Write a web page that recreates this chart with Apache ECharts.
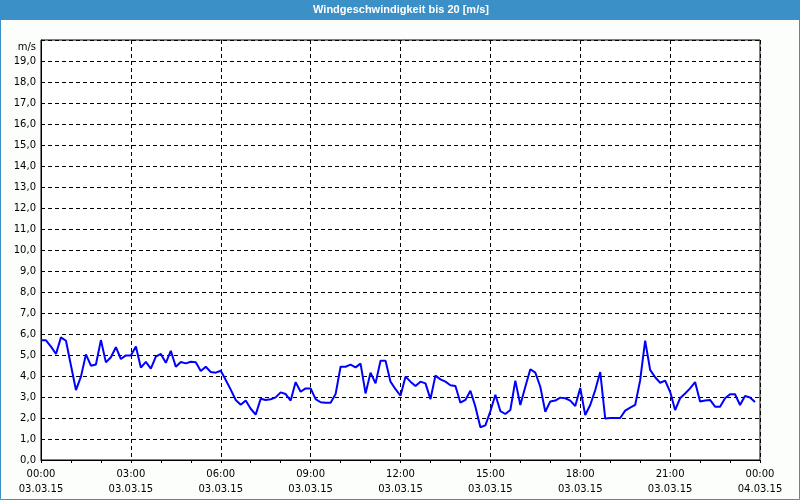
<!DOCTYPE html>
<html><head><meta charset="utf-8">
<script src="https://cdn.jsdelivr.net/npm/echarts@6.0.0/dist/echarts.min.js"></script>
<style>html,body{margin:0;padding:0;background:#fcfefc}#c{width:800px;height:500px}</style>
</head><body><div id="c"></div>
<script>
const chartTitle = 'Windgeschwindigkeit bis 20 [m/s]';
const unitLabel = 'm/s';
const startMinute = 0;
const stepMinutes = 10;
const windSpeed = [
  5.7, 5.7, 5.4, 5.05, 5.84, 5.68, 4.5, 3.33, 3.97, 5.03, 4.49, 4.55,
  5.71, 4.65, 4.89, 5.37, 4.81, 4.98, 4.98, 5.4, 4.4, 4.67, 4.35, 4.92,
  5.05, 4.63, 5.2, 4.44, 4.67, 4.6, 4.68, 4.65, 4.24, 4.44, 4.19, 4.16,
  4.25, 3.81, 3.35, 2.86, 2.63, 2.83, 2.44, 2.16, 2.92, 2.86, 2.89, 2.98,
  3.22, 3.14, 2.83, 3.71, 3.25, 3.41, 3.41, 2.9, 2.75, 2.73, 2.73, 3.14,
  4.44, 4.44, 4.54, 4.41, 4.59, 3.17, 4.16, 3.65, 4.73, 4.73, 3.73, 3.37,
  3.06, 3.97, 3.73, 3.52, 3.73, 3.65, 2.9, 4.02, 3.84, 3.73, 3.56, 3.52,
  2.73, 2.86, 3.3, 2.54, 1.56, 1.65, 2.32, 3.11, 2.33, 2.19, 2.38, 3.78,
  2.62, 3.49, 4.32, 4.16, 3.49, 2.3, 2.79, 2.83, 2.97, 2.94, 2.83, 2.57,
  3.43, 2.14, 2.62, 3.33, 4.19, 1.98, 2.0, 2.0, 2.0, 2.35, 2.49, 2.62,
  3.8, 5.68, 4.29, 3.94, 3.68, 3.78, 3.25, 2.38, 2.94, 3.17, 3.41, 3.71,
  2.79, 2.83, 2.86, 2.54, 2.54, 2.94, 3.13, 3.13, 2.62, 3.05, 2.98, 2.76
];
const xTickLabels = [
  '00:00\n03.03.15', '03:00\n03.03.15', '06:00\n03.03.15', '09:00\n03.03.15',
  '12:00\n03.03.15', '15:00\n03.03.15', '18:00\n03.03.15', '21:00\n03.03.15',
  '00:00\n04.03.15'
];

const seriesData = windSpeed.map((v, i) => [startMinute + i * stepMinutes, v]);
const font = 'DejaVu Sans';
const chart = echarts.init(document.getElementById('c'), null, {renderer: 'canvas'});
chart.setOption({
  backgroundColor: '#fcfefc',
  animation: false,
  textStyle: {fontFamily: font},
  grid: {left: 41, top: 40, right: 40, bottom: 40, show: true, backgroundColor: '#ffffff', borderColor: '#000', borderWidth: 1},
  xAxis: {
    type: 'value', min: 0, max: 1440, interval: 180,
    axisLine: {show: true, lineStyle: {color: '#000', width: 1}},
    axisTick: {show: true, length: 3, lineStyle: {color: '#000'}},
    minorTick: {show: true, splitNumber: 3, length: 3, lineStyle: {color: '#000'}},
    axisLabel: {margin: 7, fontSize: 10, color: '#000', fontFamily: font, lineHeight: 15,
      formatter: v => xTickLabels[Math.round(v / 180)] || ''},
    splitLine: {show: true, lineStyle: {color: '#000', type: [4, 3], width: 1}}
  },
  yAxis: {
    type: 'value', min: 0, max: 20, interval: 1,
    axisLine: {show: true, lineStyle: {color: '#000'}},
    axisTick: {show: false},
    axisLabel: {margin: 5, fontSize: 10, color: '#000', fontFamily: font,
      formatter: v => v >= 20 ? '' : v.toFixed(1).replace('.', ',')},
    splitLine: {show: true, lineStyle: {color: '#000', type: [4, 3], width: 1}}
  },
  series: [{
    type: 'line', data: seriesData, showSymbol: false, silent: true,
    lineStyle: {color: '#0000ff', width: 2}, itemStyle: {color: '#0000ff'}
  }],
  graphic: [
    {type: 'rect', shape: {x: 0, y: 0, width: 800, height: 20}, style: {fill: '#3c90c8'}, z: 10},
    {type: 'text', x: 401, y: 10, z: 11, style: {text: chartTitle, fill: '#ffffff', fontSize: 11, fontWeight: 'bold', fontFamily: 'Liberation Sans', align: 'center', verticalAlign: 'middle'}},
    {type: 'rect', shape: {x: 0.5, y: 0.5, width: 799, height: 499}, style: {fill: 'none', stroke: '#3c90c8', lineWidth: 1}, z: 10},
    {type: 'text', x: 36, y: 47, z: 11, style: {text: unitLabel, fill: '#000', fontSize: 10, fontFamily: font, align: 'right', verticalAlign: 'middle'}}
  ]
});
</script>
</body></html>
